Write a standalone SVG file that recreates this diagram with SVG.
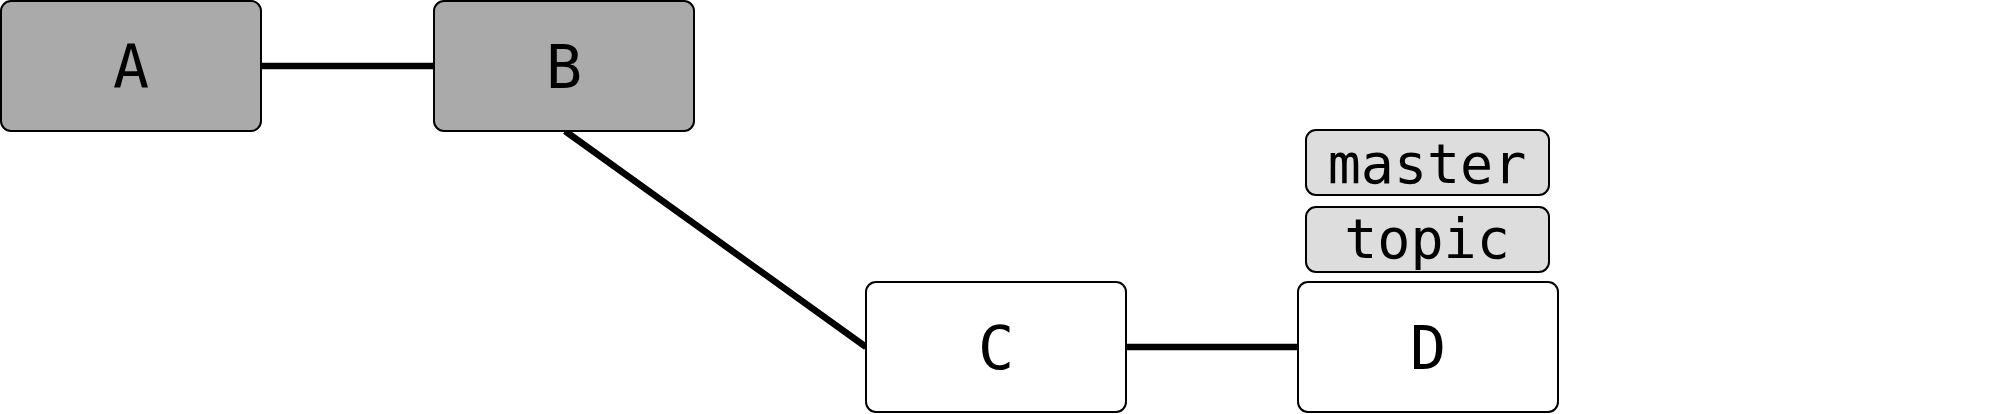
<svg xmlns="http://www.w3.org/2000/svg" width="2000" height="414" viewBox="0 0 2000 414">
<style>
.node rect{stroke:#000;stroke-width:2}
.commit rect{fill:#aaaaaa}
.new rect{fill:#ffffff}
.ref rect{fill:#dddddd}
.node text{font-family:"DejaVu Sans Mono","Liberation Mono",monospace;text-anchor:middle;fill:#000}
.commit text,.new text{font-size:60px}
.ref text{font-size:55px}
#edges line{stroke:#000;stroke-width:6.5;stroke-linecap:butt}
</style>
<rect width="2000" height="414" fill="#fff"/>
<g id="edges">
<line x1="261" y1="66" x2="434" y2="66"/>
<line x1="565" y1="131" x2="866" y2="347"/>
<line x1="1126" y1="347" x2="1298" y2="347"/>
</g>
<g id="A" class="node commit">
<rect x="1" y="1" width="260" height="130" rx="10"/>
<text x="131" y="88">A</text>
</g>
<g id="B" class="node commit">
<rect x="434" y="1" width="260" height="130" rx="10"/>
<text x="564" y="88">B</text>
</g>
<g id="C" class="node new">
<rect x="866" y="282" width="260" height="130" rx="10"/>
<text x="996" y="369">C</text>
</g>
<g id="D" class="node new">
<rect x="1298" y="282" width="260" height="130" rx="10"/>
<text x="1428" y="369">D</text>
</g>
<g id="master" class="node ref">
<rect x="1306" y="130" width="243" height="65" rx="10"/>
<text x="1427" y="183">master</text>
</g>
<g id="topic" class="node ref">
<rect x="1306" y="207" width="243" height="65" rx="10"/>
<text x="1427" y="258">topic</text>
</g>
</svg>
